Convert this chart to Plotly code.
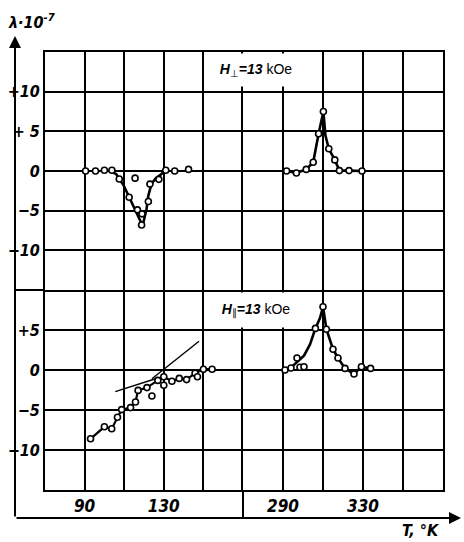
import plotly.graph_objects as go
from plotly.subplots import make_subplots

# ---------------- data (T in K, lambda in 1e-7) ----------------
# H perpendicular, low-temperature segment
tl_T = [90.5, 95.5, 100, 103.8, 107.5, 115.5, 112.5, 116.7, 119, 118.8, 122.2, 123, 127.5, 131, 135.5, 142.5]
tl_L = [0, 0, 0.1, 0.1, -1.0, -0.9, -3.3, -4.9, -5.4, -6.8, -3.85, -1.65, -1.05, 0.1, 0, 0.2]
tl_curve_T = [103, 106, 109.7, 112, 114.7, 117.7, 119.3, 121.3, 122.2, 123.8, 126, 128, 130.5]
tl_curve_L = [0, -0.4, -1.8, -3.0, -4.3, -6.0, -6.9, -4.75, -3.1, -1.6, -0.9, -0.55, 0]

# H perpendicular, high-temperature segment
tr_T = [291.8, 296.7, 301.6, 305.1, 307.8, 310.2, 312.9, 315.9, 318.2, 323, 329.5]
tr_L = [0, -0.25, 0.2, 1.1, 4.7, 7.5, 2.8, 1.4, 0.05, 0.05, 0]
tr_curve_T = [291.8, 296.7, 301.6, 305.1, 307.8, 310.2, 311.2, 312.9, 315.9, 318.2, 323, 329.5]
tr_curve_L = [0, -0.25, 0.2, 1.1, 4.7, 7.5, 4.5, 2.8, 1.4, 0.05, 0.05, 0]

# H parallel, low-temperature segment
bl_T = [93, 100, 103.7, 106.6, 108.7, 113.2, 115.7, 117, 121.5, 124, 127, 130, 130, 134.1, 137.8, 141.5, 145.8, 147, 150, 154.4]
bl_L = [-8.6, -7.1, -7.35, -5.9, -4.95, -4.7, -4.0, -2.55, -2.2, -3.25, -1.3, -0.85, -1.9, -1.4, -1.05, -1.2, -0.4, -0.85, 0.1, 0.1]
bl_curve_T = [93, 100, 103.7, 106.6, 108.7, 113.2, 115.7, 117, 121.5, 127, 130, 134.1, 137.8, 141.5, 145.8, 150, 154.4]
bl_curve_L = [-8.6, -7.1, -7.35, -5.9, -4.95, -4.7, -4.0, -2.55, -2.2, -1.3, -0.85, -1.4, -1.05, -1.2, -0.4, 0.1, 0.1]
steep_T = [124, 147.8]
steep_L = [-1.1, 3.6]
shallow_T = [105.5, 127]
shallow_L = [-2.7, -1.0]

# H parallel, high-temperature segment
br_T = [291, 294, 297, 298.5, 300.5, 306.2, 310, 311.7, 315, 317.5, 321, 325.5, 329.2, 333.8]
br_L = [0, 0.25, 1.5, 0.35, 0.4, 5.2, 7.9, 5.1, 2.6, 1.5, 0.2, -0.5, 0.4, 0.2]
br_curve_T = [291, 294, 297, 300.5, 303.5, 306.2, 308.5, 310, 311.7, 313.5, 315, 317.5, 321, 325.5, 329.2, 333.8]
br_curve_L = [0, 0.3, 1.0, 1.8, 3.2, 5.2, 6.5, 7.9, 5.1, 3.6, 2.6, 1.5, 0.2, -0.5, 0.4, 0.2]

# ticks
x_left_labels = [90, 130]
x_left_grid = [110, 150]
x_right_labels = [290, 330]
x_right_grid = [310, 350]
y_top_vals = [10, 5, 0, -5, -10]
y_top_text = ["+10", "+ 5", "0", "\u22125", "\u221210"]
y_bot_vals = [5, 0, -5, -10]
y_bot_text = ["+5", "0", "\u22125", "\u221210"]

# ---------------- figure ----------------
W, H = 464, 542
ML, MR, MT, MB = 45, 21, 52, 52
PW, PH = W - ML - MR, H - MT - MB

fig = make_subplots(rows=2, cols=2, horizontal_spacing=0, vertical_spacing=0,
                    row_heights=[238, 200], column_widths=[198, 200])

NUMFONT = dict(family="Liberation Sans Narrow, DejaVu Sans Condensed, Arial Narrow, Liberation Sans, sans-serif",
               size=16, color="black", weight="bold", style="italic")

def add_curve(T, L, r, c, w=2.6):
    fig.add_trace(go.Scatter(x=T, y=L, mode="lines", line=dict(color="black", width=w),
                             hoverinfo="skip", showlegend=False), row=r, col=c)

def add_pts(T, L, r, c):
    fig.add_trace(go.Scatter(x=T, y=L, mode="markers",
                             marker=dict(symbol="circle", size=6, color="white",
                                         line=dict(color="black", width=1.6)),
                             showlegend=False), row=r, col=c)

add_curve(tl_curve_T, tl_curve_L, 1, 1)
add_pts(tl_T, tl_L, 1, 1)
add_curve(tr_curve_T, tr_curve_L, 1, 2)
add_pts(tr_T, tr_L, 1, 2)
add_curve(bl_curve_T, bl_curve_L, 2, 1, w=2.2)
add_curve(steep_T, steep_L, 2, 1, w=1.4)
add_curve(shallow_T, shallow_L, 2, 1, w=1.4)
add_pts(bl_T, bl_L, 2, 1)
add_curve(br_curve_T, br_curve_L, 2, 2)
add_pts(br_T, br_L, 2, 2)

axcommon = dict(showline=True, linecolor="black", linewidth=2,
                showgrid=True, gridcolor="black", gridwidth=2, zeroline=False,
                ticks="", fixedrange=True)
minor_grid = dict(showgrid=True, gridcolor="black", gridwidth=2, ticks="")

for r in (1, 2):
    fig.update_xaxes(range=[70, 170], tickvals=x_left_labels,
                     showticklabels=(r == 2), tickfont=dict(NUMFONT, size=17),
                     minor=dict(minor_grid, tickvals=x_left_grid),
                     mirror=(r == 1), row=r, col=1, **axcommon)
    fig.update_xaxes(range=[270, 370], tickvals=x_right_labels,
                     showticklabels=(r == 2), tickfont=dict(NUMFONT, size=17),
                     minor=dict(minor_grid, tickvals=x_right_grid),
                     mirror=(r == 1), row=r, col=2, **axcommon)

fig.update_yaxes(range=[-15, 15], tickvals=y_top_vals, ticktext=y_top_text,
                 tickfont=NUMFONT, mirror=False, row=1, col=1, **axcommon)
fig.update_yaxes(range=[-15, 15], tickvals=y_top_vals, showticklabels=False,
                 mirror=True, row=1, col=2, **axcommon)
fig.update_yaxes(range=[-15, 10], tickvals=y_bot_vals, ticktext=y_bot_text,
                 tickfont=NUMFONT, mirror=False, row=2, col=1, **axcommon)
fig.update_yaxes(range=[-15, 10], tickvals=y_bot_vals, showticklabels=False,
                 mirror=True, row=2, col=2, **axcommon)

def px_x(p):
    return (p - ML) / PW

def px_y(p):
    return (H - MB - p) / PH

x_div = 198 / 398
y_div = 200 / 438

shapes = [
    # horizontal divider extends to outer axis
    dict(type="line", xref="paper", yref="paper", x0=px_x(15), x1=0, y0=y_div, y1=y_div,
         line=dict(color="black", width=2)),
    # vertical divider extends to outer axis
    dict(type="line", xref="paper", yref="paper", x0=x_div, x1=x_div, y0=px_y(518), y1=0,
         line=dict(color="black", width=2)),
]
fig.update_layout(shapes=shapes)

ann = [
    # outer y axis with arrow
    dict(xref="paper", yref="paper", x=px_x(15), y=px_y(36), ax=0, ay=518 - 36,
         axref="pixel", ayref="pixel", text="", showarrow=True, arrowhead=2,
         arrowsize=1.2, arrowwidth=2, arrowcolor="black"),
    # outer x axis with arrow
    dict(xref="paper", yref="paper", x=px_x(461), y=px_y(518), ax=15 - 461, ay=0,
         axref="pixel", ayref="pixel", text="", showarrow=True, arrowhead=2,
         arrowsize=1.2, arrowwidth=2, arrowcolor="black"),
    dict(xref="paper", yref="paper", x=px_x(31), y=px_y(21), xanchor="center", yanchor="middle",
         text="\u03bb\u00b710<sup>-7</sup>", showarrow=False,
         font=dict(NUMFONT, size=16)),
    dict(xref="paper", yref="paper", x=px_x(421), y=px_y(530), xanchor="center", yanchor="middle",
         text="T, \u00b0K", showarrow=False, font=dict(NUMFONT, size=16)),
    dict(xref="paper", yref="paper", x=px_x(256), y=px_y(70), xanchor="center", yanchor="middle",
         width=90, height=32, align="center", bgcolor="white", borderpad=0,
         text="<b><i>H</i></b><sub>\u22a5</sub><b><i>=13</i></b> kOe", showarrow=False,
         font=dict(family="Liberation Sans, Arial, sans-serif", size=14, color="black")),
    dict(xref="paper", yref="paper", x=px_x(256), y=px_y(310), xanchor="center", yanchor="middle",
         width=90, height=34, align="center", bgcolor="white", borderpad=0,
         text="<b><i>H</i></b><sub>\u2225</sub><b><i>=13</i></b> kOe", showarrow=False,
         font=dict(family="Liberation Sans, Arial, sans-serif", size=14, color="black")),
]
fig.update_layout(annotations=ann)

fig.update_layout(width=W, height=H,
                  margin=dict(l=ML, r=MR, t=MT, b=MB, pad=0, autoexpand=False),
                  paper_bgcolor="white", plot_bgcolor="white", showlegend=False)

fig.write_html("out.html", config={"displayModeBar": False},
               post_script="document.body.style.margin='0px';document.body.style.overflow='hidden';")
